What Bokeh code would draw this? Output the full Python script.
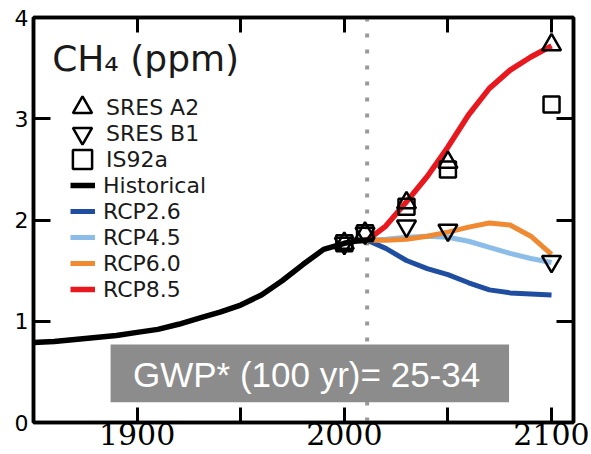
from bokeh.plotting import figure
from bokeh.models import (Range1d, LinearAxis, FixedTicker, Legend, LegendItem,
                          Label, BoxAnnotation, Span)
from bokeh.embed import file_html
from bokeh.resources import INLINE

# ---------------- data ----------------
hist_years = [1850, 1860, 1870, 1880, 1890, 1900, 1910, 1920, 1930, 1940, 1950,
              1960, 1970, 1980, 1990, 2000, 2005, 2011]
hist_ch4 = [0.79, 0.80, 0.82, 0.84, 0.86, 0.89, 0.92, 0.97, 1.03, 1.09, 1.16,
            1.26, 1.40, 1.56, 1.71, 1.77, 1.79, 1.80]

rcp_years = [2011, 2020, 2030, 2040, 2050, 2060, 2070, 2080, 2090, 2100]
rcp26 = [1.80, 1.72, 1.60, 1.52, 1.46, 1.38, 1.31, 1.28, 1.27, 1.26]
rcp45 = [1.80, 1.81, 1.83, 1.84, 1.83, 1.79, 1.73, 1.67, 1.62, 1.58]
rcp60 = [1.80, 1.80, 1.81, 1.84, 1.88, 1.93, 1.97, 1.95, 1.84, 1.66]
rcp85 = [1.80, 1.94, 2.18, 2.43, 2.72, 3.04, 3.30, 3.48, 3.61, 3.72]

sres_years = [2000, 2010, 2030, 2050, 2100]
sres_a2 = [1.77, 1.87, 2.17, 2.57, 3.73]
sres_b1 = [1.77, 1.87, 1.94, 1.90, 1.59]
is92a = [1.77, 1.87, 2.13, 2.50, 3.14]

x_labeled_ticks = [1900, 2000, 2100]
x_unlabeled_ticks = [1950, 2050]
x_all_ticks = [1900, 1950, 2000, 2050, 2100]
y_ticks = [0, 1, 2, 3, 4]
present_year = 2011

title_text = "CH\u2084 (ppm)"
note_text = "GWP* (100 yr)= 25-34"

# ---------------- figure ----------------
p = figure(width=591, height=454, x_range=Range1d(1850, 2110.6), y_range=Range1d(0, 4),
           output_backend="svg", toolbar_location=None,
           min_border_left=33, min_border_right=18, min_border_top=17, min_border_bottom=32)
p.xgrid.visible = False
p.ygrid.visible = False
p.outline_line_color = "black"
p.outline_line_width = 3.5
p.background_fill_color = "white"
p.border_fill_color = "white"

# bottom axis
xa = p.xaxis[0]
xa.ticker = FixedTicker(ticks=x_labeled_ticks, minor_ticks=x_unlabeled_ticks)
xa.major_tick_in = 15
xa.major_tick_out = 0
xa.minor_tick_in = 15
xa.minor_tick_out = 0
xa.axis_line_width = 3.5
xa.major_tick_line_width = 3
xa.minor_tick_line_width = 3
xa.minor_tick_line_color = "black"
xa.major_label_text_font = "DejaVu Serif"
xa.major_label_text_font_size = "30px"
xa.major_label_text_color = "black"
xa.major_label_standoff = 0

# left axis
ya = p.yaxis[0]
ya.ticker = FixedTicker(ticks=y_ticks)
ya.major_tick_in = 17
ya.major_tick_out = 0
ya.minor_tick_line_color = None
ya.axis_line_width = 3.5
ya.major_tick_line_width = 3
ya.major_label_text_font = "DejaVu Sans"
ya.major_label_text_font_size = "22px"
ya.major_label_text_color = "black"
ya.major_label_standoff = 5

# top & right axes (ticks only, no labels)
top = LinearAxis(ticker=FixedTicker(ticks=[], minor_ticks=x_all_ticks),
                 major_tick_in=0, major_tick_out=0, minor_tick_in=15, minor_tick_out=0,
                 minor_tick_line_color="black", minor_tick_line_width=3,
                 axis_line_width=3.5, major_label_standoff=0)
right = LinearAxis(ticker=FixedTicker(ticks=[], minor_ticks=y_ticks),
                   major_tick_in=0, major_tick_out=0, minor_tick_in=17, minor_tick_out=0,
                   minor_tick_line_color="black", minor_tick_line_width=3,
                   axis_line_width=3.5, major_label_standoff=0)
p.add_layout(top, "above")
p.add_layout(right, "right")

# dotted present-day line
span = Span(location=present_year, dimension="height", line_color="#9a9a9a",
            line_width=4, line_dash="4 12", level="underlay")
p.add_layout(span)

# lines
r_hist = p.line(hist_years, hist_ch4, line_color="black", line_width=5.5)
r26 = p.line(rcp_years, rcp26, line_color="#1f4ea0", line_width=5)
r45 = p.line(rcp_years, rcp45, line_color="#8cbde9", line_width=5)
r60 = p.line(rcp_years, rcp60, line_color="#f08a32", line_width=5)
r85 = p.line(rcp_years, rcp85, line_color="#e8191e", line_width=5.5)

# markers
m_a2 = p.scatter(sres_years, sres_a2, marker="triangle", size=19, fill_color=None,
                 line_color="black", line_width=2.5)
m_b1 = p.scatter(sres_years, sres_b1, marker="inverted_triangle", size=19, fill_color=None,
                 line_color="black", line_width=2.5)
m_is = p.scatter(sres_years, is92a, marker="square", size=16, fill_color=None,
                 line_color="black", line_width=2.5)

common = dict(padding=0, margin=0, label_text_font="DejaVu Sans",
              label_text_font_size="22px", label_text_color="#1a1a1a",
              border_line_color=None, background_fill_alpha=0)

# marker legend entries (one legend each so the big marker glyph boxes can overlap)
marker_entries = [("SRES A2", m_a2, 291), ("SRES B1", m_b1, 265), ("IS92a", m_is, 239)]
for lab, rend, ypos in marker_entries:
    lg = Legend(items=[LegendItem(label=lab, renderers=[rend])], location=(25, ypos),
                spacing=0, glyph_width=48, glyph_height=48, label_height=48,
                label_standoff=-3, **common)
    p.add_layout(lg, "center")

line_legend = Legend(items=[
    LegendItem(label="Historical", renderers=[r_hist]),
    LegendItem(label="RCP2.6", renderers=[r26]),
    LegendItem(label="RCP4.5", renderers=[r45]),
    LegendItem(label="RCP6.0", renderers=[r60]),
    LegendItem(label="RCP8.5", renderers=[r85]),
], location=(37, 120), spacing=0, glyph_width=25, glyph_height=26,
   label_height=26, label_standoff=8, **common)
p.add_layout(line_legend, "center")

# title label
p.add_layout(Label(x=1859, y=3.60, text=title_text, text_font="DejaVu Sans",
                   text_font_size="36px", text_color="#1a1a1a", text_baseline="middle"))

# gray note box
p.add_layout(BoxAnnotation(left=1887.2, right=2079.5, bottom=0.20, top=0.77,
                           fill_color="#8c8c8c", fill_alpha=1, line_alpha=0))
p.add_layout(Label(x=1898, y=0.47, text=note_text, text_font="Liberation Sans",
                   text_font_size="35px", text_color="white", text_baseline="middle"))

open("out.html", "w").write(file_html(p, INLINE))
